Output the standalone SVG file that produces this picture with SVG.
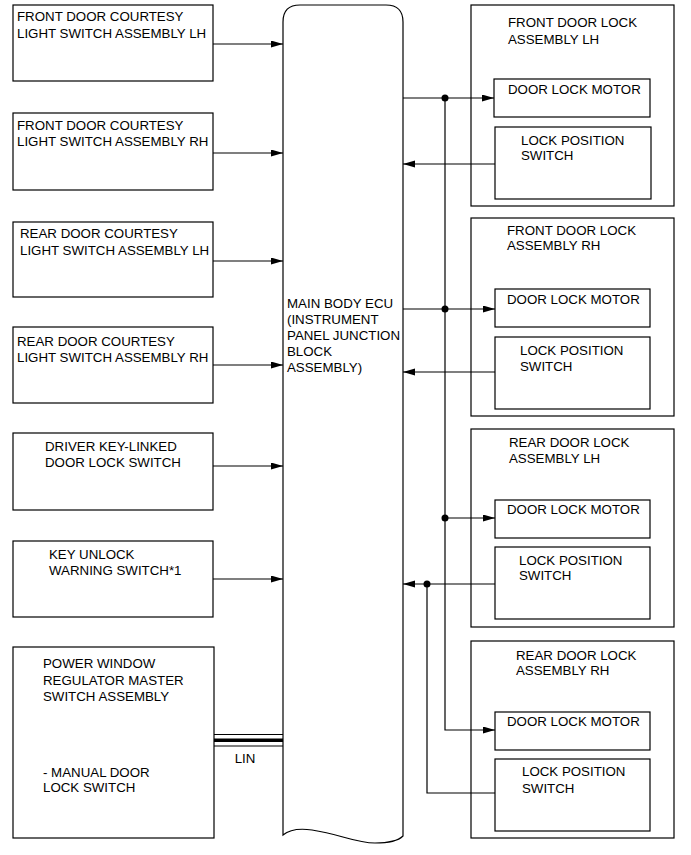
<svg xmlns="http://www.w3.org/2000/svg" width="691" height="855" viewBox="0 0 691 855">
<style>
.box{fill:#fff;stroke:#000;stroke-width:1.2}
.t{font-family:"Liberation Sans",Arial,sans-serif;font-size:13.3px;fill:#000}
.w{fill:none;stroke:#000;stroke-width:1.2}
.dot{fill:#000}
</style>
<defs>
<marker id="ah" markerWidth="12" markerHeight="8" refX="12" refY="3.5" orient="auto" markerUnits="userSpaceOnUse">
<path d="M0,0 L12,3.5 L0,7 z" fill="#000"/>
</marker>
</defs>
<rect width="691" height="855" fill="#fff"/>

<g id="ecu">
<path class="box" d="M283,835 L283,22 Q283,5 300,5 L386,5 Q403,5 403,22 L403,836 C400,839 392,843 375,843 C355,843 340,834 312,830 C298,828 289,830 283,835 Z"/>
<text class="t" x="287" y="308">MAIN BODY ECU</text>
<text class="t" x="287" y="324">(INSTRUMENT</text>
<text class="t" x="287" y="340">PANEL JUNCTION</text>
<text class="t" x="287" y="356">BLOCK</text>
<text class="t" x="287" y="372">ASSEMBLY)</text>
</g>

<g id="fr-courtesy-lh">
<rect class="box" x="13" y="5" width="200" height="76"/>
<text class="t" x="17" y="21">FRONT DOOR COURTESY</text>
<text class="t" x="17" y="38">LIGHT SWITCH ASSEMBLY LH</text>
</g>
<g id="fr-courtesy-rh">
<rect class="box" x="13" y="113" width="200" height="77"/>
<text class="t" x="17" y="130">FRONT DOOR COURTESY</text>
<text class="t" x="17" y="146">LIGHT SWITCH ASSEMBLY RH</text>
</g>
<g id="rr-courtesy-lh">
<rect class="box" x="13" y="222" width="200" height="75"/>
<text class="t" x="20" y="238">REAR DOOR COURTESY</text>
<text class="t" x="20" y="255">LIGHT SWITCH ASSEMBLY LH</text>
</g>
<g id="rr-courtesy-rh">
<rect class="box" x="13" y="327" width="200" height="76"/>
<text class="t" x="17" y="346">REAR DOOR COURTESY</text>
<text class="t" x="17" y="362">LIGHT SWITCH ASSEMBLY RH</text>
</g>
<g id="key-linked">
<rect class="box" x="13" y="433" width="200" height="77"/>
<text class="t" x="45" y="451">DRIVER KEY-LINKED</text>
<text class="t" x="45" y="467">DOOR LOCK SWITCH</text>
</g>
<g id="key-unlock">
<rect class="box" x="13" y="541" width="200" height="76"/>
<text class="t" x="49" y="559">KEY UNLOCK</text>
<text class="t" x="49" y="575">WARNING SWITCH*1</text>
</g>
<g id="pw-master">
<rect class="box" x="13" y="647" width="201" height="191"/>
<text class="t" x="43" y="668">POWER WINDOW</text>
<text class="t" x="43" y="685">REGULATOR MASTER</text>
<text class="t" x="43" y="701">SWITCH ASSEMBLY</text>
<text class="t" x="43" y="777">- MANUAL DOOR</text>
<text class="t" x="43" y="792">LOCK SWITCH</text>
</g>

<g id="fr-lock-lh">
<rect class="box" x="471" y="5" width="203" height="201"/>
<text class="t" x="508" y="27">FRONT DOOR LOCK</text>
<text class="t" x="508" y="44">ASSEMBLY LH</text>
<rect class="box" x="494" y="79" width="156" height="38"/>
<text class="t" x="508" y="94">DOOR LOCK MOTOR</text>
<rect class="box" x="495" y="127" width="156" height="72"/>
<text class="t" x="521" y="145">LOCK POSITION</text>
<text class="t" x="521" y="160">SWITCH</text>
</g>
<g id="fr-lock-rh">
<rect class="box" x="471" y="218" width="203" height="198"/>
<text class="t" x="507" y="235">FRONT DOOR LOCK</text>
<text class="t" x="507" y="250">ASSEMBLY RH</text>
<rect class="box" x="495" y="289" width="155" height="38"/>
<text class="t" x="507" y="304">DOOR LOCK MOTOR</text>
<rect class="box" x="495" y="337" width="155" height="72"/>
<text class="t" x="520" y="355">LOCK POSITION</text>
<text class="t" x="520" y="371">SWITCH</text>
</g>
<g id="rr-lock-lh">
<rect class="box" x="471" y="429" width="203" height="198"/>
<text class="t" x="509" y="447">REAR DOOR LOCK</text>
<text class="t" x="509" y="463">ASSEMBLY LH</text>
<rect class="box" x="495" y="500" width="155" height="38"/>
<text class="t" x="507" y="514">DOOR LOCK MOTOR</text>
<rect class="box" x="495" y="547" width="155" height="72"/>
<text class="t" x="519" y="565">LOCK POSITION</text>
<text class="t" x="519" y="580">SWITCH</text>
</g>
<g id="rr-lock-rh">
<rect class="box" x="471" y="641" width="203" height="197"/>
<text class="t" x="516" y="660">REAR DOOR LOCK</text>
<text class="t" x="516" y="675">ASSEMBLY RH</text>
<rect class="box" x="495" y="712" width="155" height="38"/>
<text class="t" x="507" y="726">DOOR LOCK MOTOR</text>
<rect class="box" x="495" y="759" width="155" height="72"/>
<text class="t" x="522" y="776">LOCK POSITION</text>
<text class="t" x="522" y="793">SWITCH</text>
</g>

<g id="connectors">
<line class="w" x1="213" y1="44" x2="283" y2="44" marker-end="url(#ah)"/>
<line class="w" x1="213" y1="153" x2="283" y2="153" marker-end="url(#ah)"/>
<line class="w" x1="213" y1="261" x2="283" y2="261" marker-end="url(#ah)"/>
<line class="w" x1="213" y1="365" x2="283" y2="365" marker-end="url(#ah)"/>
<line class="w" x1="213" y1="466" x2="283" y2="466" marker-end="url(#ah)"/>
<line class="w" x1="213" y1="579" x2="283" y2="579" marker-end="url(#ah)"/>

<line x1="214" y1="734.5" x2="283" y2="734.5" stroke="#000" stroke-width="1"/>
<line x1="214" y1="740.3" x2="283" y2="740.3" stroke="#000" stroke-width="3.5"/>
<line x1="214" y1="746" x2="283" y2="746" stroke="#000" stroke-width="1"/>
<text class="t" x="245" y="763" text-anchor="middle">LIN</text>

<line class="w" x1="403" y1="98" x2="494" y2="98" marker-end="url(#ah)"/>
<line class="w" x1="495" y1="164" x2="403" y2="164" marker-end="url(#ah)"/>
<line class="w" x1="403" y1="309" x2="495" y2="309" marker-end="url(#ah)"/>
<line class="w" x1="495" y1="372" x2="403" y2="372" marker-end="url(#ah)"/>
<line class="w" x1="445" y1="518" x2="495" y2="518" marker-end="url(#ah)"/>
<line class="w" x1="495" y1="584" x2="403" y2="584" marker-end="url(#ah)"/>
<polyline class="w" points="445,98 445,730 495,730" marker-end="url(#ah)"/>
<polyline class="w" points="427,584 427,793 495,793"/>
<circle class="dot" cx="445" cy="98" r="3.5"/>
<circle class="dot" cx="445" cy="309" r="3.5"/>
<circle class="dot" cx="445" cy="518" r="3.5"/>
<circle class="dot" cx="427" cy="584" r="3.5"/>
</g>
</svg>
